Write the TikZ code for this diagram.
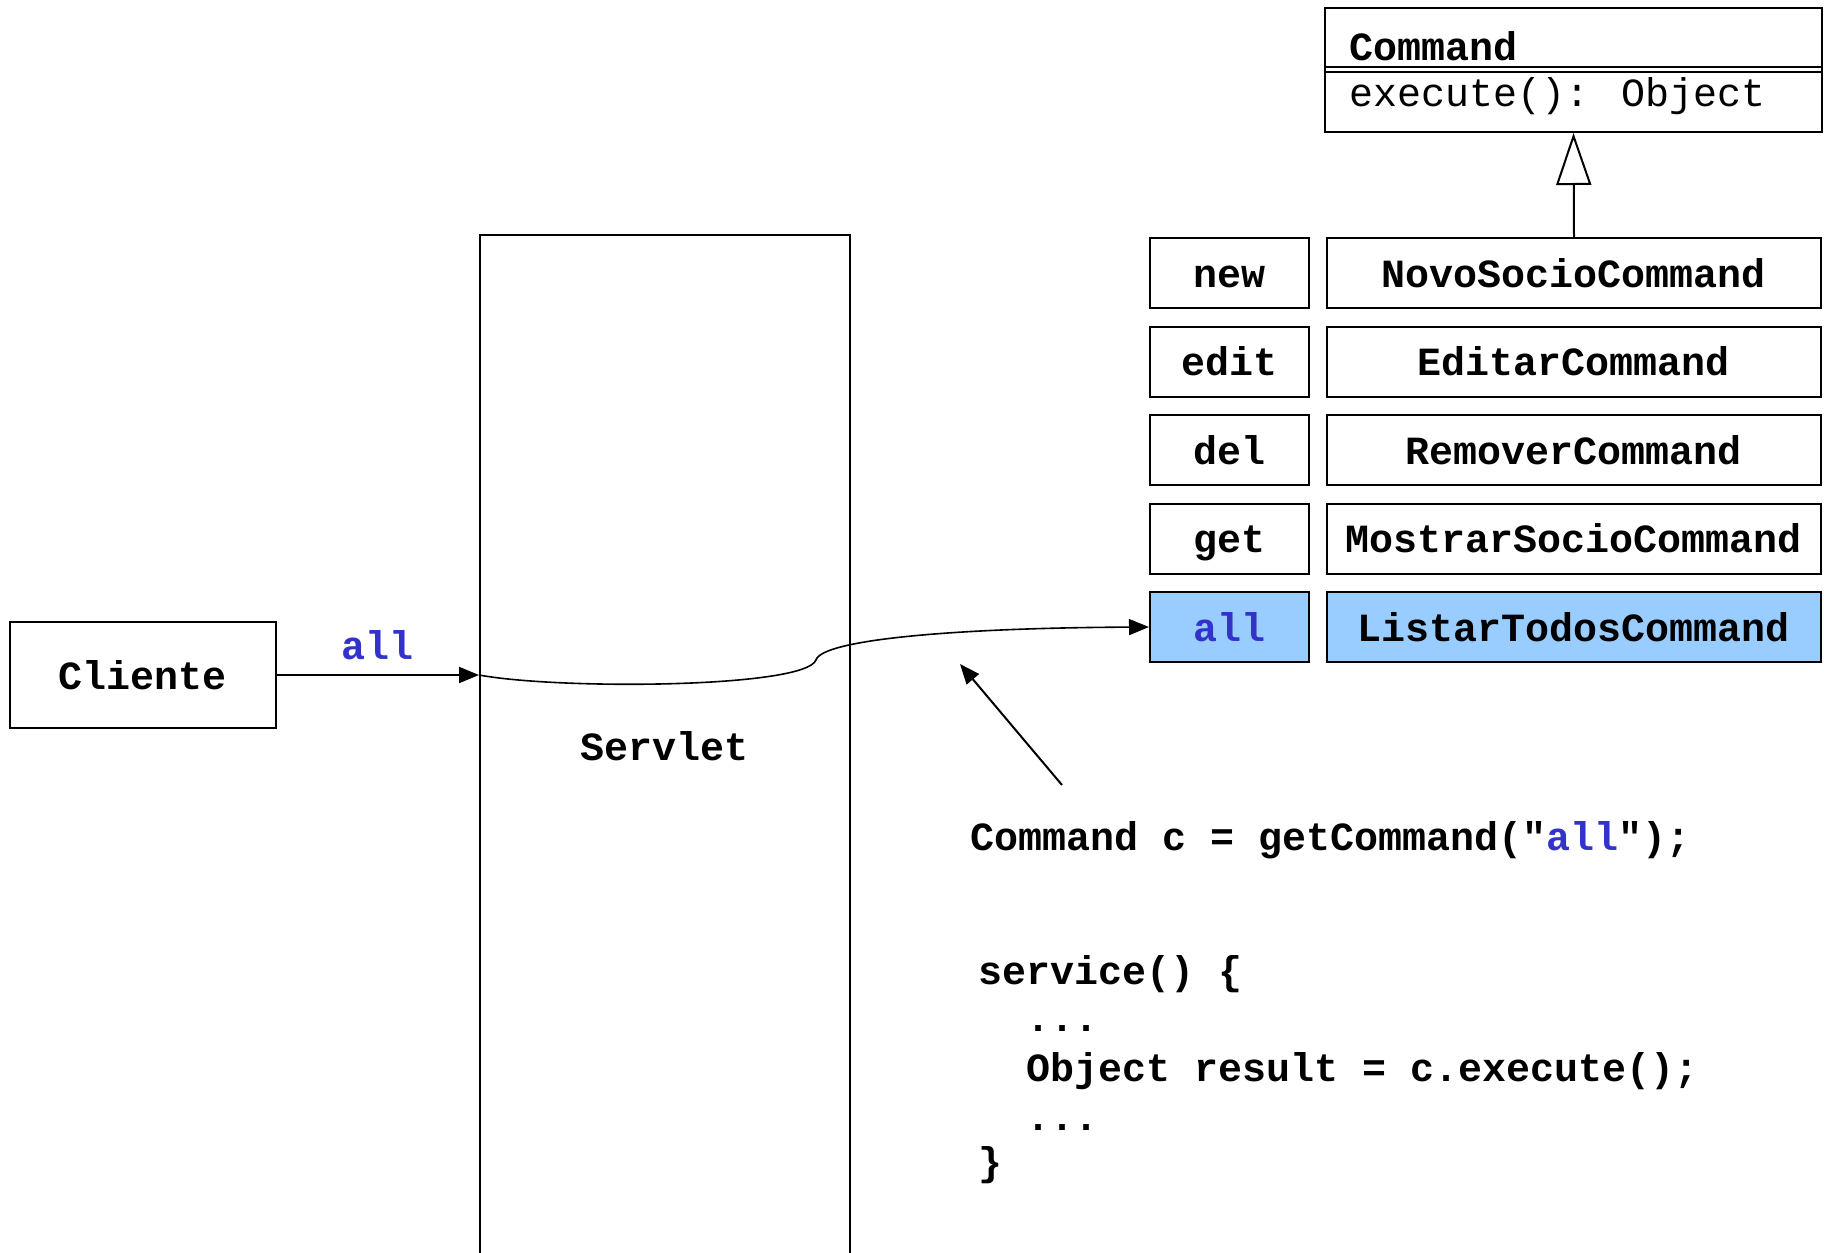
\documentclass[tikz,border=0pt]{standalone}
\usepackage{fontspec}
\setmainfont{Liberation Mono}
\usetikzlibrary{arrows.meta}
\definecolor{selblue}{HTML}{99CCFF}
\definecolor{txtblue}{HTML}{3333CC}
\begin{document}
\begin{tikzpicture}[x=1pt,y=-1pt,
  every node/.style={font=\fontsize{40}{48}\selectfont\bfseries, inner sep=0pt},
  box/.style={draw, line width=2pt, minimum height=70pt, text height=28pt, text depth=0pt},
  keybox/.style={box, minimum width=159pt},
  cmdbox/.style={box, minimum width=494pt},
  arr/.style={line width=2pt, -{Triangle[length=20pt,width=16pt]}},
  code/.style={anchor=base west}]
\useasboundingbox (0,0) rectangle (1824,1253);
\fill[white] (0,0) rectangle (1824,1253);

% Command class
\node[draw, line width=2pt, minimum width=497pt, minimum height=124pt] (cmd) at (1573.5,70) {};
\draw[line width=1.6pt] (cmd.west |- 0,67) -- (cmd.east |- 0,67);
\draw[line width=1.6pt] (cmd.west |- 0,72) -- (cmd.east |- 0,72);
\node[anchor=base west] (cmdname) at (1349,60) {Command};
\node[anchor=base west, font=\fontsize{40}{48}\selectfont] (cmdop) at (1349,106) {execute(): Object};

% rows
\node[keybox] (k1) at (1229.5,273.4) {new};
\node[cmdbox] (c1) at (1574,273.4) {NovoSocioCommand};
\node[keybox] (k2) at (1229.5,361.8) {edit};
\node[cmdbox] (c2) at (1574,361.8) {EditarCommand};
\node[keybox] (k3) at (1229.5,450.2) {del};
\node[cmdbox] (c3) at (1574,450.2) {RemoverCommand};
\node[keybox] (k4) at (1229.5,538.6) {get};
\node[cmdbox] (c4) at (1574,538.6) {MostrarSocioCommand};
\node[keybox, fill=selblue, text=txtblue] (k5) at (1229.5,627) {all};
\node[cmdbox, fill=selblue] (c5) at (1574,627) {ListarTodosCommand};

\draw[line width=2pt, -{Triangle[open, length=52pt, width=35pt]}] (c1.north) -- (cmd.south);

% Cliente and Servlet
\node[draw, line width=2pt, minimum width=266pt, minimum height=106pt] (cli) at (143,675) {Cliente};
\node[draw, line width=2pt, minimum width=370pt, minimum height=1040pt, anchor=north] (srv) at (665,234) {};
\node (srvlabel) at (665,746) {Servlet};
\coordinate (sin) at (cli.east -| srv.west);
\draw[arr] (cli.east) -- node[above=14pt, text=txtblue] (lbl) {all} (sin);
\draw[line width=1.6pt, -{Triangle[length=20pt,width=16pt]}] (sin) .. controls (560,690) and (805,688) .. (816,660)
  .. controls (822,640) and (950,628) .. (k5.west);

% code
\node[code] (l1) at (970,850) {Command c = getCommand(\textquotedbl\textcolor{txtblue}{all}\textquotedbl);};
\node[code] (l2) at (978,984) {service() \{};
\node[code] (l3) at (978,1031) {\ \ ...};
\node[code] (l4) at (978,1081) {\ \ Object result = c.execute();};
\node[code] (l5) at (978,1130) {\ \ ...};
\node[code] (l6) at (978,1175) {\}};
\coordinate (tail) at (1062,785);
\coordinate (head) at (960,664);
\draw[arr] (tail) -- (head);
\end{tikzpicture}
\end{document}
